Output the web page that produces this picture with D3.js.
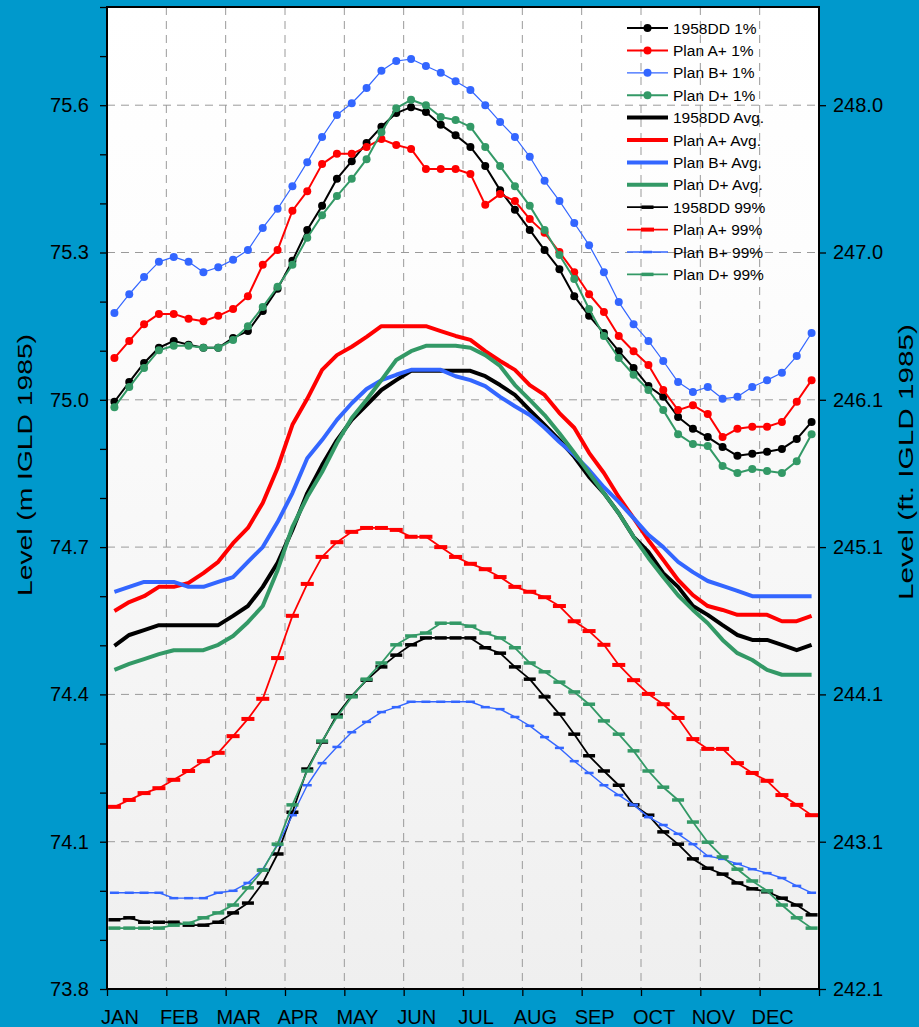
<!DOCTYPE html>
<html>
<head>
<meta charset="utf-8">
<script src="https://cdn.jsdelivr.net/npm/d3@7"></script>
<style>
  body { margin: 0; background: #0099cc; }
  text { font-family: "Liberation Sans", Arial, sans-serif; fill: #000; }
</style>
</head>
<body>
<script>
var width = 919,
    height = 1027;

// quarter-month steps, 48 per series
var months = ["JAN", "FEB", "MAR", "APR", "MAY", "JUN", "JUL", "AUG", "SEP", "OCT", "NOV", "DEC"];
var mTicks = [73.8, 74.1, 74.4, 74.7, 75.0, 75.3, 75.6];
var ftLabels = ["242.1", "243.1", "244.1", "245.1", "246.1", "247.0", "248.0"];

var dd1 = [74.996,75.036,75.075,75.106,75.120,75.112,75.106,75.106,75.126,75.140,75.181,75.226,75.283,75.346,75.395,75.450,75.486,75.523,75.556,75.584,75.596,75.586,75.560,75.539,75.515,75.476,75.427,75.387,75.346,75.305,75.266,75.211,75.171,75.136,75.099,75.065,75.028,75.006,74.965,74.941,74.924,74.904,74.886,74.890,74.894,74.900,74.920,74.955];
var a1 = [75.085,75.120,75.154,75.175,75.175,75.165,75.160,75.171,75.185,75.211,75.275,75.305,75.385,75.425,75.480,75.501,75.501,75.515,75.531,75.519,75.511,75.470,75.470,75.470,75.460,75.397,75.419,75.405,75.368,75.340,75.301,75.260,75.215,75.179,75.130,75.099,75.071,75.020,74.979,74.989,74.971,74.924,74.941,74.945,74.945,74.955,74.996,75.040];
var b1 = [75.177,75.215,75.250,75.281,75.291,75.281,75.260,75.270,75.285,75.305,75.350,75.389,75.435,75.484,75.535,75.580,75.604,75.635,75.670,75.690,75.694,75.680,75.666,75.649,75.631,75.600,75.566,75.535,75.495,75.446,75.405,75.360,75.315,75.260,75.199,75.154,75.120,75.079,75.036,75.016,75.026,75.002,75.006,75.026,75.040,75.055,75.089,75.136];
var d1 = [74.985,75.026,75.065,75.101,75.110,75.110,75.106,75.106,75.122,75.150,75.189,75.230,75.275,75.330,75.376,75.415,75.450,75.490,75.545,75.594,75.611,75.600,75.576,75.570,75.556,75.515,75.476,75.435,75.395,75.346,75.295,75.246,75.185,75.130,75.085,75.051,75.020,74.979,74.930,74.910,74.906,74.865,74.851,74.859,74.855,74.851,74.875,74.930];

var ddAvg = [74.499,74.521,74.531,74.541,74.541,74.541,74.541,74.541,74.560,74.580,74.619,74.668,74.735,74.810,74.867,74.918,74.959,74.989,75.020,75.040,75.059,75.059,75.059,75.059,75.059,75.048,75.030,75.010,74.979,74.949,74.918,74.884,74.843,74.810,74.769,74.721,74.690,74.647,74.619,74.580,74.562,74.541,74.521,74.511,74.511,74.501,74.490,74.501];
var aAvg = [74.570,74.588,74.600,74.619,74.619,74.627,74.647,74.670,74.708,74.739,74.790,74.861,74.949,75.002,75.061,75.091,75.108,75.128,75.150,75.150,75.150,75.150,75.140,75.130,75.122,75.099,75.079,75.061,75.030,75.010,74.973,74.943,74.892,74.851,74.802,74.759,74.714,74.674,74.633,74.602,74.580,74.572,74.562,74.562,74.562,74.549,74.549,74.560];
var bAvg = [74.609,74.619,74.629,74.629,74.629,74.619,74.619,74.629,74.639,74.670,74.700,74.751,74.810,74.881,74.918,74.959,74.993,75.022,75.040,75.051,75.061,75.061,75.061,75.048,75.040,75.028,75.006,74.987,74.969,74.943,74.914,74.888,74.857,74.822,74.792,74.759,74.725,74.700,74.670,74.649,74.631,74.621,74.611,74.600,74.600,74.600,74.600,74.600];
var dAvg = [74.450,74.462,74.472,74.482,74.490,74.490,74.490,74.501,74.519,74.547,74.580,74.653,74.741,74.802,74.853,74.912,74.963,75.000,75.040,75.081,75.099,75.110,75.110,75.110,75.106,75.091,75.069,75.030,75.000,74.969,74.932,74.892,74.851,74.810,74.769,74.721,74.678,74.639,74.602,74.572,74.545,74.511,74.484,74.470,74.450,74.440,74.440,74.440];

var dd99 = [73.941,73.945,73.936,73.936,73.936,73.930,73.930,73.936,73.955,73.975,74.016,74.075,74.160,74.248,74.303,74.358,74.397,74.429,74.456,74.480,74.501,74.515,74.515,74.515,74.515,74.495,74.484,74.456,74.431,74.395,74.360,74.319,74.275,74.244,74.215,74.175,74.154,74.120,74.095,74.065,74.046,74.034,74.016,74.004,73.998,73.985,73.971,73.951];
var a99 = [74.171,74.185,74.199,74.209,74.226,74.244,74.264,74.281,74.315,74.350,74.391,74.474,74.560,74.625,74.680,74.710,74.731,74.739,74.739,74.735,74.721,74.721,74.700,74.680,74.666,74.655,74.639,74.619,74.609,74.598,74.580,74.549,74.529,74.501,74.460,74.429,74.401,74.380,74.352,74.309,74.289,74.289,74.260,74.240,74.224,74.195,74.175,74.154];
var b99 = [73.996,73.996,73.996,73.996,73.985,73.985,73.985,73.996,74.000,74.016,74.044,74.093,74.154,74.215,74.260,74.293,74.323,74.344,74.364,74.374,74.385,74.385,74.385,74.385,74.385,74.374,74.370,74.354,74.336,74.313,74.291,74.264,74.240,74.215,74.195,74.175,74.150,74.134,74.116,74.095,74.071,74.065,74.055,74.044,74.036,74.026,74.010,73.996];
var d99 = [73.924,73.924,73.924,73.924,73.930,73.934,73.945,73.955,73.971,74.006,74.042,74.095,74.175,74.244,74.305,74.354,74.395,74.431,74.464,74.501,74.519,74.525,74.545,74.545,74.539,74.525,74.515,74.495,74.464,74.446,74.425,74.405,74.380,74.346,74.319,74.285,74.244,74.211,74.185,74.140,74.099,74.069,74.044,74.020,74.000,73.971,73.945,73.924];

var black = "#000000", red = "#ff0000", blue = "#3366ff", green = "#339966";

// kind: dot = 1% (circles), avg = thick line, bar = 99% (dash markers)
var series = [
  {name: "1958DD 1%", vals: dd1, color: black, kind: "dot", w: 2, r: 4},
  {name: "Plan A+ 1%", vals: a1, color: red, kind: "dot", w: 2, r: 4},
  {name: "Plan B+ 1%", vals: b1, color: blue, kind: "dot", w: 1.2, r: 4},
  {name: "Plan D+ 1%", vals: d1, color: green, kind: "dot", w: 2, r: 4},
  {name: "1958DD Avg.", vals: ddAvg, color: black, kind: "avg", w: 4},
  {name: "Plan A+ Avg.", vals: aAvg, color: red, kind: "avg", w: 4},
  {name: "Plan B+ Avg.", vals: bAvg, color: blue, kind: "avg", w: 4},
  {name: "Plan D+ Avg.", vals: dAvg, color: green, kind: "avg", w: 4},
  {name: "1958DD 99%", vals: dd99, color: black, kind: "bar", w: 1.8, bw: 12, bh: 3.5},
  {name: "Plan A+ 99%", vals: a99, color: red, kind: "bar", w: 1.8, bw: 13, bh: 4},
  {name: "Plan B+ 99%", vals: b99, color: blue, kind: "bar", w: 1.4, bw: 9, bh: 2.5},
  {name: "Plan D+ 99%", vals: d99, color: green, kind: "bar", w: 1.8, bw: 12, bh: 3.5}
];

var plotL = 107, plotR = 819, plotT = 7, plotB = 989;

var svg = d3.select("body").append("svg")
    .attr("width", width)
    .attr("height", height);

svg.append("rect")
    .attr("width", width)
    .attr("height", height)
    .attr("fill", "#0099cc");

var grad = svg.append("defs").append("linearGradient")
    .attr("id", "bg")
    .attr("x1", 0).attr("y1", 0).attr("x2", 0).attr("y2", 1);
grad.append("stop").attr("offset", "0%").attr("stop-color", "#ffffff");
grad.append("stop").attr("offset", "25%").attr("stop-color", "#fdfdfd");
grad.append("stop").attr("offset", "100%").attr("stop-color", "#efefef");

var x = d3.scaleLinear().domain([0, 12]).range([plotL, plotR]);
var y = d3.scaleLinear().domain([73.8, 75.8]).range([plotB, plotT]);

svg.append("rect")
    .attr("x", plotL)
    .attr("y", plotT)
    .attr("width", plotR - plotL)
    .attr("height", plotB - plotT)
    .attr("fill", "url(#bg)");

// grid
var grid = svg.append("g")
    .attr("stroke", "#9a9a9a")
    .attr("stroke-width", 1)
    .attr("stroke-dasharray", "8,6");

grid.selectAll(".hg")
    .data(mTicks.slice(1))
    .enter().append("line")
    .attr("x1", plotL).attr("x2", plotR)
    .attr("y1", function(d) { return y(d); })
    .attr("y2", function(d) { return y(d); });

grid.selectAll(".vg")
    .data(d3.range(1, 12))
    .enter().append("line")
    .attr("y1", plotT).attr("y2", plotB)
    .attr("x1", function(d) { return x(d); })
    .attr("x2", function(d) { return x(d); });

function xi(i) { return x((i + 0.5) / 4); }

var line = d3.line()
    .x(function(d, i) { return xi(i); })
    .y(function(d) { return y(d); });

var plot = svg.append("g");

series.forEach(function(s) {
  plot.append("path")
      .datum(s.vals)
      .attr("d", line)
      .attr("fill", "none")
      .attr("stroke", s.color)
      .attr("stroke-width", s.w)
      .attr("stroke-linejoin", "round");

  if (s.kind == "dot") {
    plot.selectAll(null)
        .data(s.vals)
        .enter().append("circle")
        .attr("cx", function(d, i) { return xi(i); })
        .attr("cy", function(d) { return y(d); })
        .attr("r", s.r)
        .attr("fill", s.color);
  }
  if (s.kind == "bar") {
    plot.selectAll(null)
        .data(s.vals)
        .enter().append("rect")
        .attr("x", function(d, i) { return xi(i) - s.bw / 2; })
        .attr("y", function(d) { return y(d) - s.bh / 2; })
        .attr("width", s.bw)
        .attr("height", s.bh)
        .attr("fill", s.color);
  }
});

// plot border
svg.append("rect")
    .attr("x", plotL)
    .attr("y", plotT)
    .attr("width", plotR - plotL)
    .attr("height", plotB - plotT)
    .attr("fill", "none")
    .attr("stroke", "#000")
    .attr("stroke-width", 2);

// axes
var minor = d3.range(0, 21).map(function(i) { return +(73.8 + i * 0.1).toFixed(1); });

var yLeft = svg.append("g")
    .attr("transform", "translate(" + plotL + ",0)")
    .call(d3.axisLeft(y)
      .tickValues(minor)
      .tickSize(7)
      .tickPadding(11)
      .tickFormat(function(d) {
        return mTicks.indexOf(d) >= 0 ? d.toFixed(1) : "";
      }));

var yRight = svg.append("g")
    .attr("transform", "translate(" + plotR + ",0)")
    .call(d3.axisRight(y)
      .tickValues(mTicks)
      .tickSize(7)
      .tickPadding(7)
      .tickFormat(function(d, i) { return ftLabels[i]; }));

var xAxis = svg.append("g")
    .attr("transform", "translate(0," + plotB + ")")
    .call(d3.axisBottom(x)
      .tickValues(d3.range(0, 13))
      .tickSize(7)
      .tickFormat(""));

[yLeft, yRight, xAxis].forEach(function(g) {
  g.select(".domain").remove();
  g.selectAll(".tick line").attr("stroke", "#000").attr("stroke-width", 1.3);
  g.selectAll(".tick text")
      .attr("font-size", 20)
      .attr("font-family", "Liberation Sans, Arial, sans-serif")
      .attr("fill", "#000");
});

svg.selectAll(".mlab")
    .data(months)
    .enter().append("text")
    .attr("x", function(d, i) { return x(i) + 13; })
    .attr("y", 1024)
    .attr("text-anchor", "middle")
    .attr("font-size", 20)
    .text(function(d) { return d; });

// axis titles
svg.append("text")
    .attr("transform", "translate(32,465) rotate(-90)")
    .attr("text-anchor", "middle")
    .attr("font-size", 20)
    .attr("textLength", 262)
    .attr("lengthAdjust", "spacingAndGlyphs")
    .text("Level (m IGLD 1985)");

svg.append("text")
    .attr("transform", "translate(913,462) rotate(-90)")
    .attr("text-anchor", "middle")
    .attr("font-size", 20)
    .attr("textLength", 276)
    .attr("lengthAdjust", "spacingAndGlyphs")
    .text("Level (ft. IGLD 1985)");

// legend
var legend = svg.append("g");
series.forEach(function(s, i) {
  var ly = 28 + i * 22.4;
  legend.append("line")
      .attr("x1", 627).attr("x2", 668)
      .attr("y1", ly).attr("y2", ly)
      .attr("stroke", s.color)
      .attr("stroke-width", s.w);
  if (s.kind == "dot") {
    legend.append("circle")
        .attr("cx", 647.5).attr("cy", ly)
        .attr("r", s.r)
        .attr("fill", s.color);
  }
  if (s.kind == "bar") {
    legend.append("rect")
        .attr("x", 647.5 - s.bw / 2).attr("y", ly - s.bh / 2)
        .attr("width", s.bw).attr("height", s.bh)
        .attr("fill", s.color);
  }
  legend.append("text")
      .attr("x", 673)
      .attr("y", ly + 5.5)
      .attr("font-size", 15.5)
      .text(s.name);
});
</script>
</body>
</html>
